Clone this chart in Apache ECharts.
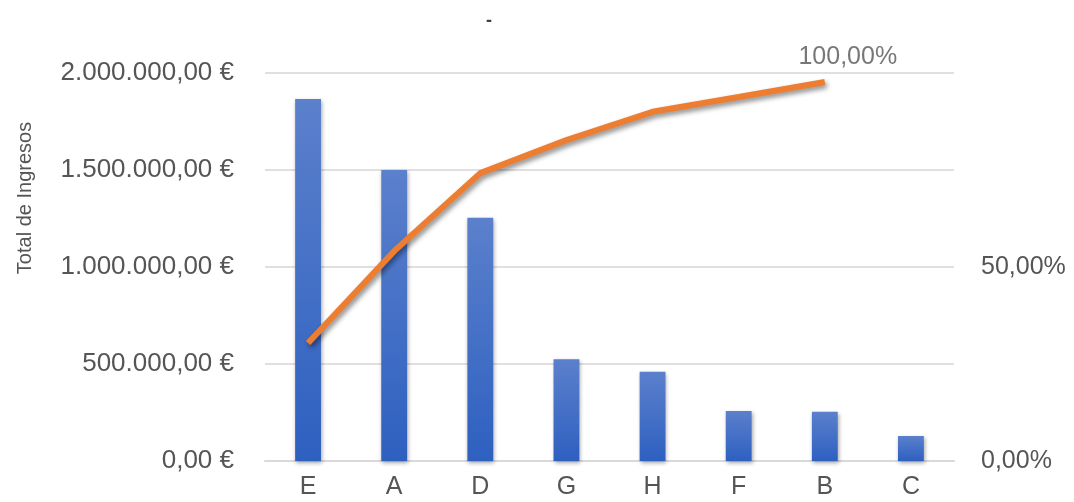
<!DOCTYPE html>
<html>
<head>
<meta charset="utf-8">
<script src="https://cdn.jsdelivr.net/npm/echarts@6/dist/echarts.min.js"></script>
<style>
html,body{margin:0;padding:0;background:#fff;}
#c{width:1074px;height:502px;}
</style>
</head>
<body>
<div id="c"></div>
<script>
const categories = ['E', 'A', 'D', 'G', 'H', 'F', 'B', 'C'];
const ingresos = [1866000, 1500000, 1254000, 524000, 460000, 258000, 254000, 129000];
const acumulado = [30.4, 54.1, 74.2, 82.7, 90.0, 93.8, 97.7, null];
const leftTicks = [0, 500000, 1000000, 1500000, 2000000];
const rightTicks = [0, 50, 100];
const topLabel = [['B', 100, '100,00%']];

function fmtEuro(v) {
  const parts = v.toFixed(2).split('.');
  const intp = parts[0].replace(/\B(?=(\d{3})+(?!\d))/g, '.');
  return intp + ',' + parts[1] + ' €';
}
function fmtPct(v) {
  return v.toFixed(2).replace('.', ',') + '%';
}

const chart = echarts.init(document.getElementById('c'));
const font = 'Liberation Sans, Arial, sans-serif';
const txt = '#555555';
chart.setOption({
  animation: false,
  backgroundColor: '#fff',
  textStyle: { fontFamily: font },
  title: {
    text: '-',
    left: 481, top: 7,
    textStyle: { fontSize: 18, color: '#404040', fontWeight: 'bold', fontFamily: font }
  },
  grid: { left: 265, right: 120, top: 73, bottom: 41, containLabel: false },
  xAxis: {
    type: 'category',
    data: categories,
    axisTick: { show: false },
    axisLine: { lineStyle: { color: '#d9d9d9', width: 2 } },
    axisLabel: { color: txt, fontSize: 25, margin: 14, fontFamily: font }
  },
  yAxis: [
    {
      type: 'value', min: leftTicks[0], max: leftTicks[leftTicks.length - 1], interval: leftTicks[1] - leftTicks[0],
      name: 'Total de Ingresos',
      nameLocation: 'middle', nameRotate: 90, nameGap: 230,
      nameTextStyle: { color: txt, fontSize: 20, fontFamily: font, padding: [0, 0, 0, 138] },
      axisLabel: { color: txt, fontSize: 26, margin: 31, formatter: fmtEuro, fontFamily: font },
      axisLine: { show: false }, axisTick: { show: false },
      splitLine: { lineStyle: { color: '#e0e0e0', width: 2 } }
    },
    {
      type: 'value', min: rightTicks[0], max: rightTicks[rightTicks.length - 1], interval: rightTicks[1] - rightTicks[0],
      position: 'right',
      axisLabel: {
        color: txt, fontSize: 25, margin: 27, fontFamily: font,
        formatter: function (v) { return v === rightTicks[rightTicks.length - 1] ? '' : fmtPct(v); }
      },
      axisLine: { show: false }, axisTick: { show: false },
      splitLine: { show: false }
    }
  ],
  series: [
    {
      type: 'bar',
      data: ingresos,
      barWidth: '30%',
      itemStyle: {
        color: new echarts.graphic.LinearGradient(0, 0, 0, 1, [
          { offset: 0, color: '#5b80cc' },
          { offset: 1, color: '#2e60c0' }
        ]),
        shadowColor: 'rgba(0,0,0,0.35)', shadowBlur: 4, shadowOffsetX: 1, shadowOffsetY: 2
      }
    },
    {
      type: 'line',
      yAxisIndex: 1,
      data: acumulado,
      symbol: 'none',
      lineStyle: {
        color: '#ed7d31', width: 6,
        shadowColor: 'rgba(0,0,0,0.45)', shadowBlur: 5, shadowOffsetX: 2, shadowOffsetY: 3
      },
      itemStyle: { color: '#ed7d31' },
      z: 5
    },
    {
      type: 'scatter',
      yAxisIndex: 1,
      data: topLabel,
      symbolSize: 0,
      silent: true,
      label: {
        show: true, position: 'top', distance: 0, offset: [23, -3],
        color: txt, fontSize: 25, fontFamily: font,
        formatter: function (p) { return p.data[2]; }
      }
    }
  ]
});
</script>
</body>
</html>
